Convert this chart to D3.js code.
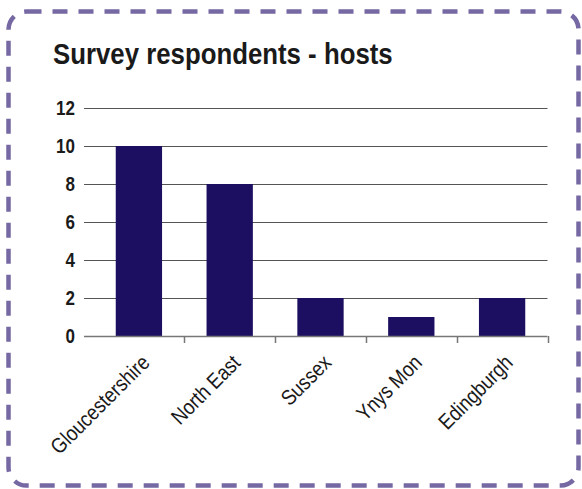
<!DOCTYPE html>
<html>
<head>
<script src="https://d3js.org/d3.v7.min.js"></script>
<style>
  body { margin: 0; background: #fff; }
  svg text { font-family: "Liberation Sans", Arial, sans-serif; }
</style>
</head>
<body>
<script>
var regions = ["Gloucestershire", "North East", "Sussex", "Ynys Mon", "Edingburgh"];
var hosts = [10, 8, 2, 1, 2];
var yTicks = [0, 2, 4, 6, 8, 10, 12];

var W = 582, H = 489;
var svg = d3.select("body").append("svg")
  .attr("width", W)
  .attr("height", H);

// dashed rounded frame
svg.append("rect")
  .attr("x", 8.5).attr("y", 11.5)
  .attr("width", 570).attr("height", 474)
  .attr("rx", 18).attr("ry", 18)
  .attr("fill", "none")
  .attr("stroke", "#7568a3")
  .attr("stroke-width", 4.5)
  .attr("stroke-dasharray", "15,11");

// no condensed face installed, so squeeze the text horizontally
svg.append("text")
  .attr("transform", "translate(53,64) scale(0.86,1)")
  .attr("font-size", 30)
  .attr("font-weight", "bold")
  .attr("fill", "#1a1a1a")
  .text("Survey respondents - hosts");

var plotL = 93.5, plotR = 547.5, plotT = 108, plotB = 336;

var x = d3.scaleBand()
  .domain(regions)
  .range([plotL, plotR])
  .paddingInner(0.49)
  .paddingOuter(0.245);

var y = d3.scaleLinear()
  .domain([0, 12])
  .range([plotB, plotT]);

var g = svg.append("g");

// gridlines (extend 10px left as tick marks)
g.selectAll(".grid")
  .data(yTicks.filter(function(d) { return d > 0; }))
  .enter().append("line")
  .attr("x1", 84).attr("x2", plotR)
  .attr("y1", function(d) { return Math.round(y(d)) + 0.5; })
  .attr("y2", function(d) { return Math.round(y(d)) + 0.5; })
  .attr("stroke", "#555")
  .attr("stroke-width", 1);

g.selectAll(".ylab")
  .data(yTicks)
  .enter().append("text")
  .attr("transform", function(d) { return "translate(75," + y(d) + ") scale(0.85,1)"; })
  .attr("dy", "0.36em")
  .attr("text-anchor", "end")
  .attr("font-size", 20)
  .attr("font-weight", "bold")
  .attr("fill", "#1a1a1a")
  .text(function(d) { return d; });

g.selectAll(".bar")
  .data(hosts)
  .enter().append("rect")
  .attr("x", function(d, i) { return x(regions[i]); })
  .attr("y", function(d) { return y(d); })
  .attr("width", x.bandwidth())
  .attr("height", function(d) { return plotB - y(d); })
  .attr("fill", "#1c0f61");

// x axis baseline + ticks at band boundaries
g.append("line")
  .attr("x1", 84).attr("x2", plotR)
  .attr("y1", plotB + 0.5).attr("y2", plotB + 0.5)
  .attr("stroke", "#777")
  .attr("stroke-width", 1.5);

var step = x.step();
g.selectAll(".xtick")
  .data(regions)
  .enter().append("line")
  .attr("x1", function(d) { return Math.round(x(d) + x.bandwidth() / 2 + step / 2) + 0.5; })
  .attr("x2", function(d) { return Math.round(x(d) + x.bandwidth() / 2 + step / 2) + 0.5; })
  .attr("y1", plotB).attr("y2", plotB + 7)
  .attr("stroke", "#777")
  .attr("stroke-width", 1.5);

g.selectAll(".xlab")
  .data(regions)
  .enter().append("text")
  .attr("transform", function(d) {
    var cx = x(d) + x.bandwidth() / 2;
    return "translate(" + (cx + 12) + "," + 364 + ") rotate(-45) scale(0.86,1)";
  })
  .attr("text-anchor", "end")
  .attr("font-size", 21.5)
  .attr("fill", "#1a1a1a")
  .text(function(d) { return d; });
</script>
</body>
</html>
